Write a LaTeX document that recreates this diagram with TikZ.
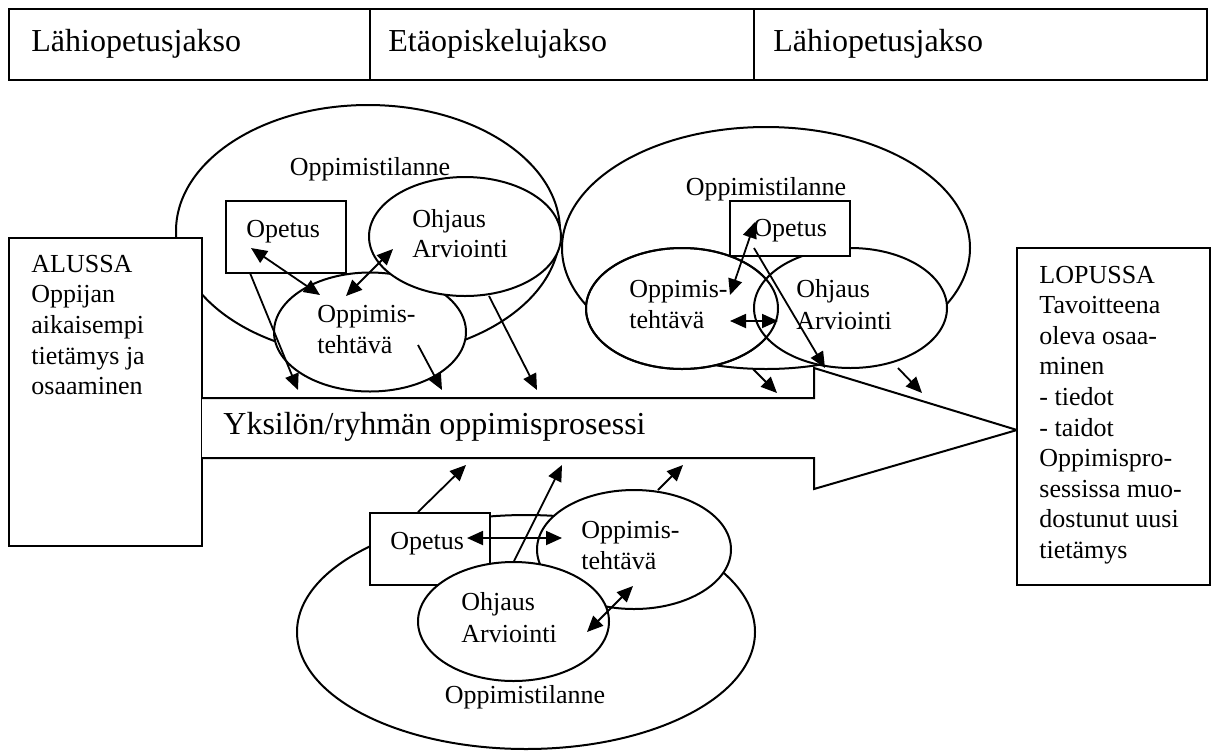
\documentclass[tikz,border=0pt]{standalone}
\usepackage{fontspec}
\setmainfont{Liberation Serif}
\usetikzlibrary{shapes.geometric,arrows.meta}
\begin{document}
\begin{tikzpicture}[x=0.5pt,y=-0.5pt,
  outline/.style={draw, line width=1pt, fill=white, inner sep=0pt},
  oval/.style={outline, ellipse},
  boxshape/.style={outline, rectangle},
  txt/.style={anchor=base west, inner sep=0pt, font=\fontsize{13}{15.3}\selectfont},
  midtxt/.style={txt, anchor=base},
  bigtxt/.style={anchor=base west, inner sep=0pt, font=\fontsize{16}{19}\selectfont},
  arr/.style={line width=0.9pt, -{Triangle[length=8pt,width=7pt]}},
  darr/.style={line width=0.9pt, {Triangle[length=8pt,width=7pt]}-{Triangle[length=8pt,width=7pt]}},
]
\useasboundingbox (0,0) rectangle (1216,751);

% period header
\node[boxshape, minimum width=180.5pt, minimum height=35.5pt] (h1) at (189.5,44.5) {};
\node[boxshape, minimum width=192pt, minimum height=35.5pt] (h2) at (562,44.5) {};
\node[boxshape, minimum width=226.5pt, minimum height=35.5pt] (h3) at (980.5,44.5) {};
\node[bigtxt] (h1t) at (31,51) {Lähiopetusjakso};
\node[bigtxt] (h2t) at (388,51) {Etäopiskelujakso};
\node[bigtxt] (h3t) at (773,51) {Lähiopetusjakso};

% first learning situation
\node[oval, minimum width=192pt, minimum height=126pt] (tl) at (368,231) {};
\node[oval, minimum width=204pt, minimum height=121pt] (tr) at (766,248) {};
\node[boxshape, minimum width=60pt, minimum height=36pt] (tlop) at (286,237) {};
\node[oval, minimum width=96pt, minimum height=59.5pt] (tlt) at (370,332) {};
\node[oval, minimum width=96pt, minimum height=59.5pt] (tlo) at (465,236.5) {};

% second learning situation
\node[oval, minimum width=96pt, minimum height=60.5pt] (trt) at (682,308.5) {};
\node[oval, minimum width=96.5pt, minimum height=60pt] (tro) at (850.5,308) {};
\draw[line width=1pt] (trt.center) ellipse [x radius=96, y radius=60.5];
\node[boxshape, minimum width=60pt, minimum height=27.5pt] (trop) at (790,228.5) {};

% starting point
\node[boxshape, minimum width=96.5pt, minimum height=154pt] (alku) at (105.5,392) {};

% learning process arrow
\draw[line width=1pt, fill=white] (202,398) -- (814,398) -- (814,368) -- (1017,430)
  -- (814,489) -- (814,458) -- (202,458);
\node[bigtxt] (proc) at (223,434) {Yksilön/ryhmän oppimisprosessi};

% end point
\node[boxshape, minimum width=96.5pt, minimum height=168.5pt] (loppu) at (1113.5,416.5) {};

% third learning situation
\node[oval, minimum width=229pt, minimum height=117pt] (bo) at (526,632) {};
\node[boxshape, minimum width=60pt, minimum height=36pt] (bop) at (430,549) {};
\node[oval, minimum width=97pt, minimum height=59.5pt] (bt) at (634,549.5) {};
\node[oval, minimum width=95.5pt, minimum height=59.5pt] (bh) at (513.5,621.5) {};

% labels
\node[midtxt] (tlL) at (370,175) {Oppimistilanne};
\node[txt] (tlopL) at (246,237) {Opetus};
\node[txt] (tloL1) at (412,227) {Ohjaus};
\node[txt] (tloL2) at (412,257) {Arviointi};
\node[txt] (tltL1) at (317,322) {Oppimis-};
\node[txt] (tltL2) at (317,353) {tehtävä};

\node[midtxt] (trL) at (766,195) {Oppimistilanne};
\node[txt] (tropL) at (753,236) {Opetus};
\node[txt] (trtL1) at (629,297) {Oppimis-};
\node[txt] (trtL2) at (629,328) {tehtävä};
\node[txt] (troL1) at (796,297) {Ohjaus};
\node[txt] (troL2) at (796,329) {Arviointi};

\node[midtxt] (boL) at (525,703) {Oppimistilanne};
\node[txt] (bopL) at (390,549) {Opetus};
\node[txt] (btL1) at (581,538) {Oppimis-};
\node[txt] (btL2) at (581,569) {tehtävä};
\node[txt] (bhL1) at (461,610) {Ohjaus};
\node[txt] (bhL2) at (461,642) {Arviointi};

\foreach \t [count=\i from 0] in {ALUSSA, Oppijan, aikaisempi, tietämys ja, osaaminen}
  \node[txt] (al\i) at (31,272+30.7*\i) {\t};
\foreach \t [count=\i from 0] in {LOPUSSA, Tavoitteena, oleva osaa-, minen, - tiedot,
    - taidot, Oppimispro-, sessissa muo-, dostunut uusi, tietämys}
  \node[txt] (lo\i) at (1039,283.3+30.56*\i) {\t};

% connector end points
\coordinate (a1a) at (251,248);  \coordinate (a1b) at (320,295);
\coordinate (a2a) at (393,249);  \coordinate (a2b) at (346,296);
\coordinate (a3a) at (250,273);  \coordinate (a3b) at (298,390);
\coordinate (a4a) at (418,345);  \coordinate (a4b) at (442,390);
\coordinate (a5a) at (489,296);  \coordinate (a5b) at (537,390);

\coordinate (b1a) at (755,222);  \coordinate (b1b) at (730,295);
\coordinate (b2a) at (730,321);  \coordinate (b2b) at (778,321);
\coordinate (b3a) at (754,248);  \coordinate (b3b) at (825,368);
\coordinate (b4a) at (753,369);  \coordinate (b4b) at (777,393);
\coordinate (b5a) at (898,368);  \coordinate (b5b) at (922,393);

\coordinate (c1a) at (418,512);  \coordinate (c1b) at (466,465);
\coordinate (c2a) at (467,538);  \coordinate (c2b) at (562,538);
\coordinate (c3a) at (514,561);  \coordinate (c3b) at (562,465);
\coordinate (c4a) at (658,490);  \coordinate (c4b) at (683,465);
\coordinate (c5a) at (587,632);  \coordinate (c5b) at (633,586);

% interactions and contributions to the process
\draw[darr] (a1a) -- (a1b);
\draw[darr] (a2a) -- (a2b);
\draw[arr] (a3a) -- (a3b);
\draw[arr] (a4a) -- (a4b);
\draw[arr] (a5a) -- (a5b);

\draw[darr] (b1a) -- (b1b);
\draw[darr] (b2a) -- (b2b);
\draw[arr] (b3a) -- (b3b);
\draw[arr] (b4a) -- (b4b);
\draw[arr] (b5a) -- (b5b);

\draw[arr] (c1a) -- (c1b);
\draw[darr] (c2a) -- (c2b);
\draw[arr] (c3a) -- (c3b);
\draw[arr] (c4a) -- (c4b);
\draw[darr] (c5a) -- (c5b);
\end{tikzpicture}
\end{document}
